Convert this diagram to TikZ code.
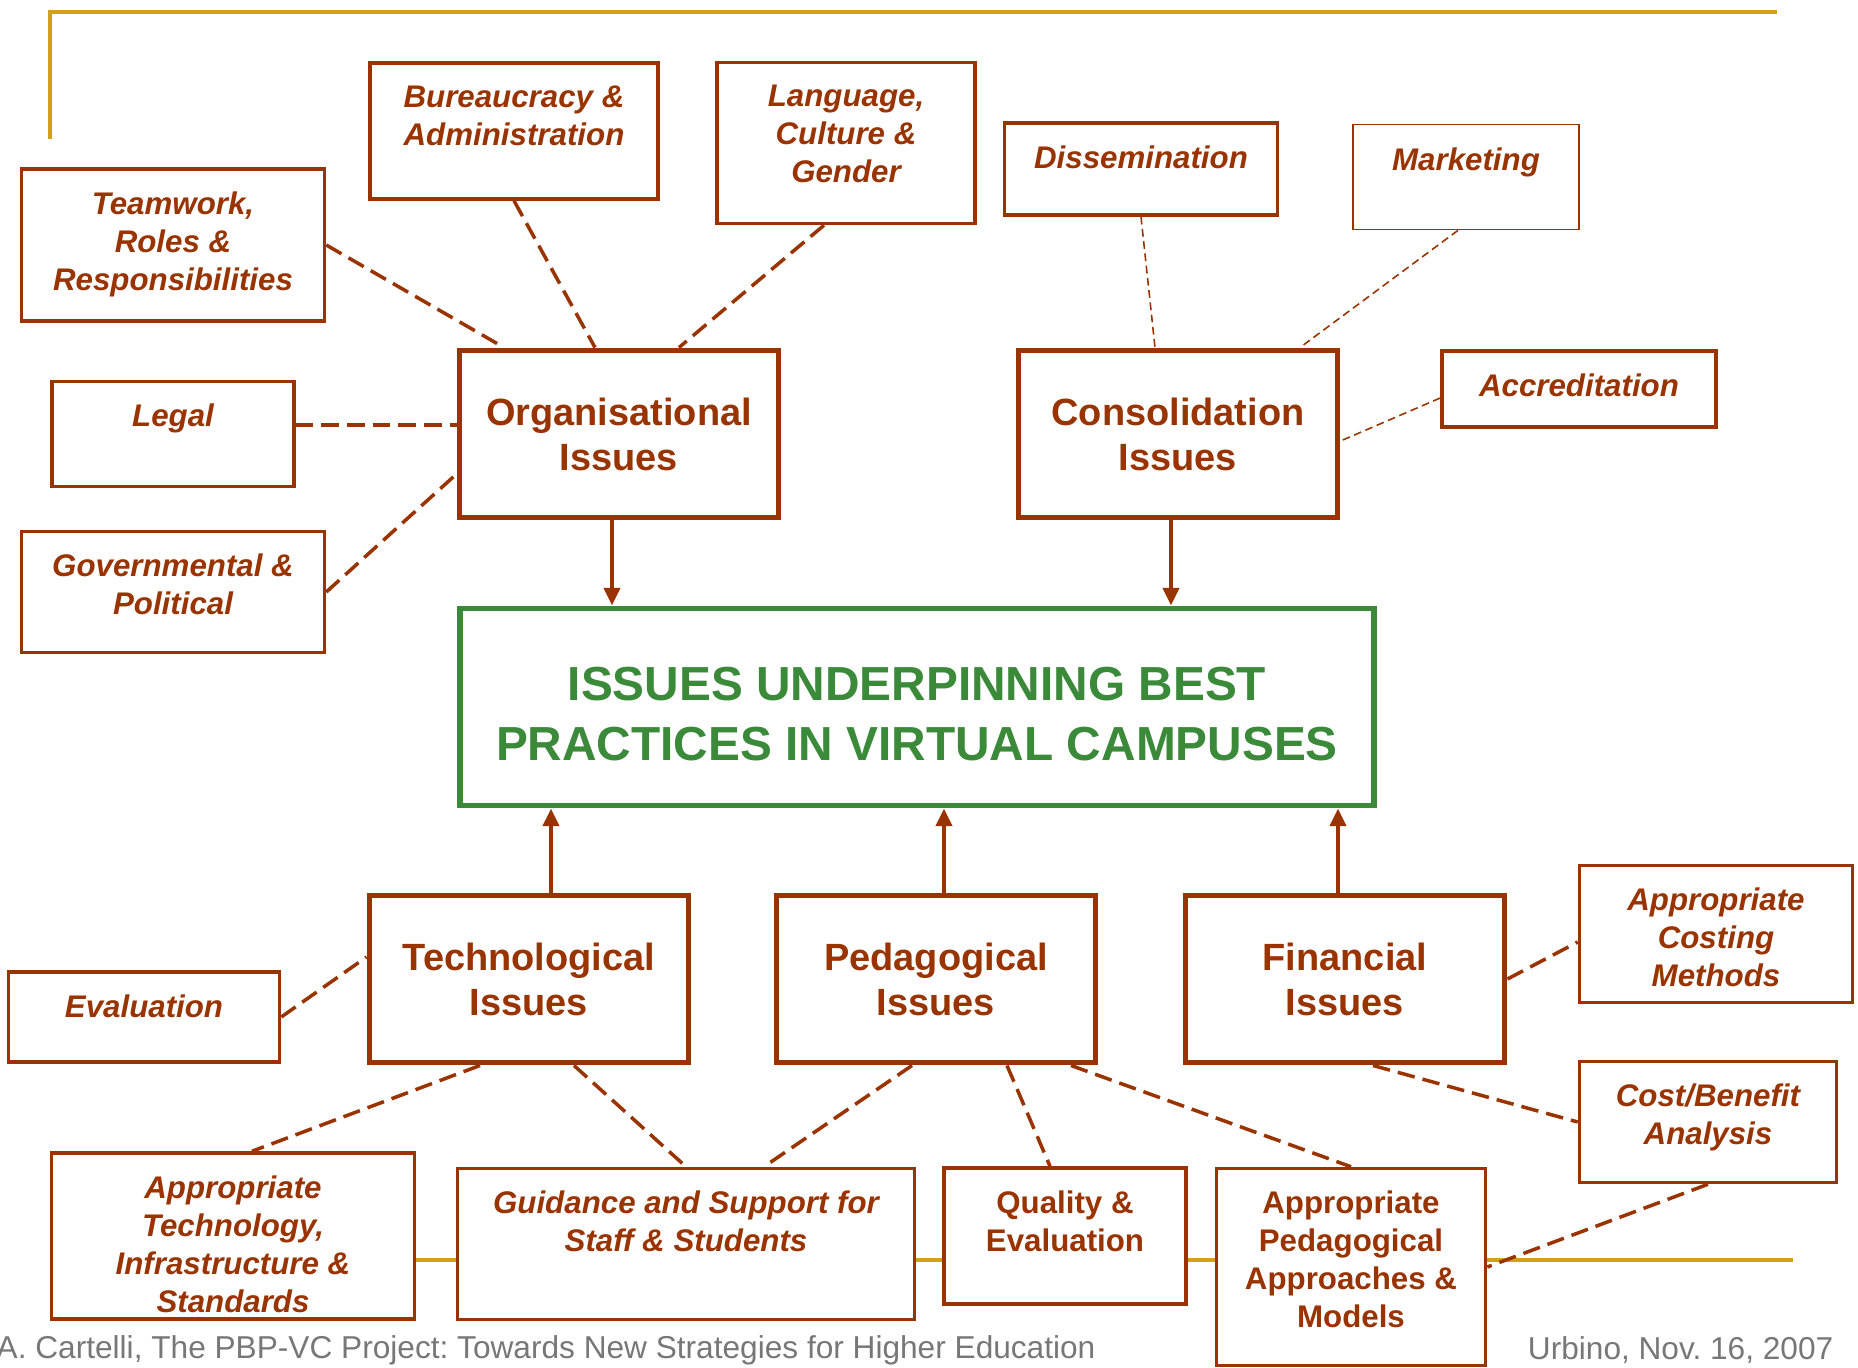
\documentclass[tikz,border=0pt]{standalone}
\usepackage{fontspec}
\setmainfont{Liberation Sans}
\usetikzlibrary{arrows.meta}
\definecolor{rust}{HTML}{993300}
\definecolor{leaf}{HTML}{3A8A3A}
\definecolor{ochre}{HTML}{D4A017}
\definecolor{slate}{HTML}{777777}
\frenchspacing
\begin{document}
\begin{tikzpicture}[
    issue/.style={draw=rust,line width=1.7pt,fill=white,text=rust,align=center,
      font=\fontsize{10.8}{12.8}\selectfont\bfseries,
      minimum width=3.19cm,minimum height=1.67cm,inner sep=0pt},
    factor/.style={draw=rust,line width=1pt,fill=white,inner sep=0pt},
    tag/.style={anchor=north,yshift=-6.7pt,inner sep=0pt,align=center,text=rust,
      font=\fontsize{8.9}{10.8}\selectfont\bfseries\itshape},
    tagup/.style={tag,font=\fontsize{8.9}{10.8}\selectfont\bfseries},
    hubtext/.style={yshift=-2pt,inner sep=0pt,align=center,text=leaf,
      font=\fontsize{13.6}{16.9}\selectfont\bfseries},
    link/.style={draw=rust,line width=1pt,dash pattern=on 5pt off 2.3pt},
    faint/.style={draw=rust,line width=.45pt,dash pattern=on 2.2pt off 1.3pt},
    feed/.style={draw=rust,line width=1.3pt,-{Triangle[length=5pt,width=4.5pt]}}
  ]
\useasboundingbox (0,0) rectangle (18.58,13.67);

% slide frame
\draw[ochre,line width=1pt] (0.50,12.28) -- (0.50,13.55) -- (17.77,13.55);
\draw[ochre,line width=1pt] (4.15,1.07) -- (17.93,1.07);

% upper factors
\node[factor,minimum width=2.88cm,minimum height=1.36cm,
  label={[tag]north:{Bureaucracy \&\\Administration}}] (bur) at (5.14,12.36) {};
\node[factor,minimum width=2.58cm,minimum height=1.61cm,
  label={[tag]north:{Language,\\Culture \&\\Gender}}] (lang) at (8.46,12.24) {};
\node[factor,minimum width=2.73cm,minimum height=0.92cm,
  label={[tag]north:{Dissemination}}] (diss) at (11.41,11.98) {};
\node[factor,line width=.5pt,minimum width=2.26cm,minimum height=1.05cm,
  label={[tag]north:{Marketing}}] (mkt) at (14.66,11.90) {};
\node[factor,minimum width=3.03cm,minimum height=1.52cm,
  label={[tag]north:{Teamwork,\\Roles \&\\Responsibilities}}] (team) at (1.73,11.22) {};
\node[factor,minimum width=2.42cm,minimum height=1.05cm,
  label={[tag]north:{Legal}}] (legal) at (1.73,9.33) {};
\node[factor,minimum width=3.03cm,minimum height=1.21cm,
  label={[tag]north:{Governmental \&\\Political}}] (gov) at (1.73,7.75) {};
\node[factor,minimum width=2.74cm,minimum height=0.76cm,
  label={[tag]north:{Accreditation}}] (accr) at (15.79,9.78) {};

% main issues
\node[issue] (org) at (6.19,9.33) {Organisational\\Issues};
\node[issue] (cons) at (11.78,9.33) {Consolidation\\Issues};
\node[issue] (tech) at (5.29,3.88) {Technological\\Issues};
\node[issue] (ped) at (9.36,3.88) {Pedagogical\\Issues};
\node[issue] (fin) at (13.45,3.88) {Financial\\Issues};

\node[draw=leaf,line width=1.7pt,fill=white,minimum width=9.14cm,minimum height=1.97cm,
  label={[hubtext]center:{ISSUES UNDERPINNING BEST\\PRACTICES IN VIRTUAL CAMPUSES}}] (hub) at (9.17,6.60) {};

% lower factors
\node[factor,minimum width=2.71cm,minimum height=0.90cm,
  label={[tag]north:{Evaluation}}] (eval) at (1.44,3.50) {};
\node[factor,minimum width=2.73cm,minimum height=1.37cm,
  label={[tag]north:{Appropriate\\Costing\\Methods}}] (acm) at (17.16,4.33) {};
\node[factor,minimum width=2.57cm,minimum height=1.21cm,
  label={[tag]north:{Cost/Benefit\\Analysis}}] (cost) at (17.08,2.45) {};
\node[factor,minimum width=3.63cm,minimum height=1.66cm,
  label={[tag]north:{Appropriate\\Technology,\\Infrastructure \&\\Standards}}] (atech) at (2.33,1.31) {};
\node[factor,minimum width=4.57cm,minimum height=1.51cm,
  label={[tag]north:{Guidance and Support for\\Staff \& Students}}] (guide) at (6.86,1.23) {};
\node[factor,minimum width=2.42cm,minimum height=1.36cm,
  label={[tagup]north:{Quality \&\\Evaluation}}] (qual) at (10.65,1.31) {};
\node[factor,minimum width=2.69cm,minimum height=1.97cm,
  label={[tagup]north:{Appropriate\\Pedagogical\\Approaches \&\\Models}}] (aped) at (13.51,1.00) {};

% footer
\node[anchor=west,inner sep=0pt,text=slate,font=\fontsize{9}{10}\selectfont] (cite) at (-0.04,0.17)
  {A. Cartelli, The PBP-VC Project: Towards New Strategies for Higher Education};
\node[anchor=east,inner sep=0pt,text=slate,font=\fontsize{9}{10}\selectfont] (date) at (18.34,0.17)
  {Urbino, Nov. 16, 2007};

% links to the organisational and consolidation issues
\draw[link] (team.east) -- ([xshift=-1.15cm]org.north);
\draw[link] (bur.south) -- ([xshift=-.24cm]org.north);
\draw[link] ([xshift=-.22cm]lang.south) -- ([xshift=.6cm]org.north);
\draw[link] ([yshift=.09cm]legal.east) -- ([yshift=.09cm]org.west);
\draw[link] (gov.east) -- ([yshift=-.4cm]org.west);
\draw[faint] (diss.south) -- ([xshift=-.23cm]cons.north);
\draw[faint] ([xshift=-.08cm]mkt.south) -- ([xshift=1.22cm]cons.north);
\draw[faint] ([yshift=-.09cm]accr.west) -- ([yshift=-.07cm]cons.east);

% everything feeds the central box
\draw[feed] ([xshift=-.07cm]org.south) -- ([xshift=-.07cm]org.south |- hub.north);
\draw[feed] ([xshift=-.07cm]cons.south) -- ([xshift=-.07cm]cons.south |- hub.north);
\draw[feed] ([xshift=.22cm]tech.north) -- ([xshift=.22cm]tech.north |- hub.south);
\draw[feed] ([xshift=.08cm]ped.north) -- ([xshift=.08cm]ped.north |- hub.south);
\draw[feed] ([xshift=-.07cm]fin.north) -- ([xshift=-.07cm]fin.north |- hub.south);

% links below
\draw[link] (eval.east) -- ([yshift=.22cm]tech.west);
\draw[link] ([xshift=-.49cm]tech.south) -- ([xshift=.19cm]atech.north);
\draw[link] ([xshift=.45cm]tech.south) -- (guide.north);
\draw[link] ([xshift=-.24cm]ped.south) -- ([xshift=.78cm]guide.north);
\draw[link] ([xshift=.71cm]ped.south) -- ([xshift=-.15cm]qual.north);
\draw[link] ([xshift=1.35cm]ped.south) -- (aped.north);
\draw[link] (fin.east) -- ([yshift=-.08cm]acm.west);
\draw[link] ([xshift=.28cm]fin.south) -- (cost.west);
\draw[link] (cost.south) -- (aped.east);
\end{tikzpicture}
\end{document}
